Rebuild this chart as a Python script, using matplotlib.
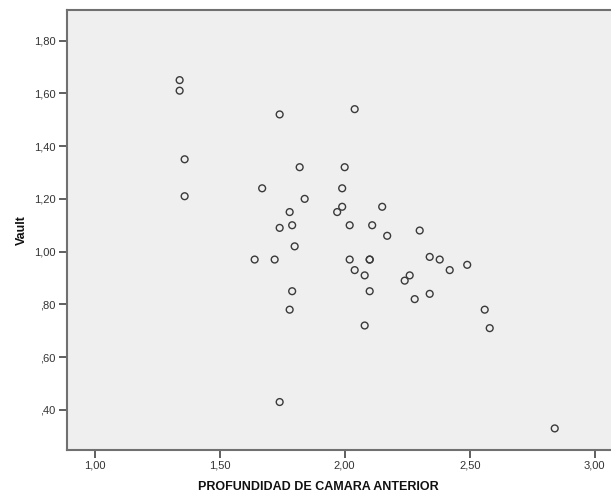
import matplotlib.pyplot as plt
from matplotlib.ticker import FuncFormatter

plt.rcParams['font.family'] = ['Liberation Sans', 'DejaVu Sans']

# Profundidad de camara anterior vs Vault
acd = [1.34, 1.34, 1.74, 1.36, 1.82, 1.67, 2.04, 1.36, 2.00, 1.99,
       1.84, 1.78, 1.99, 1.97, 1.74, 1.79, 2.02, 1.80, 2.15, 2.11,
       2.17, 2.30, 2.02, 2.10, 2.10, 2.04, 2.08, 2.34, 2.38, 2.42,
       2.49, 2.26, 2.24, 2.10, 2.28, 2.34, 2.56, 2.58, 2.08, 1.64,
       1.72, 1.79, 1.78, 1.74, 2.84]
vault = [1.65, 1.61, 1.52, 1.35, 1.32, 1.24, 1.54, 1.21, 1.32, 1.24,
         1.20, 1.15, 1.17, 1.15, 1.09, 1.10, 1.10, 1.02, 1.17, 1.10,
         1.06, 1.08, 0.97, 0.97, 0.97, 0.93, 0.91, 0.98, 0.97, 0.93,
         0.95, 0.91, 0.89, 0.85, 0.82, 0.84, 0.78, 0.71, 0.72, 0.97,
         0.97, 0.85, 0.78, 0.43, 0.33]

x_ticks = [1.0, 1.5, 2.0, 2.5, 3.0]
y_ticks = [0.4, 0.6, 0.8, 1.0, 1.2, 1.4, 1.6, 1.8]


def spss_fmt(v, pos):
    s = f'{v:.2f}'.replace('.', ',')
    if s.startswith('0'):
        s = s[1:]
    return s


fig = plt.figure(figsize=(6.11, 4.97), dpi=100)
ax = fig.add_axes([0.109, 0.095, 0.891, 0.885])
ax.set_facecolor('#efefef')

ax.scatter(acd, vault, s=24, facecolors='none', edgecolors='#3a3a3a', linewidths=1.0, zorder=3)

ax.set_xlim(0.888, 3.065)
ax.set_ylim(0.249, 1.916)
ax.set_xticks(x_ticks)
ax.set_yticks(y_ticks)
ax.xaxis.set_major_formatter(FuncFormatter(spss_fmt))
ax.yaxis.set_major_formatter(FuncFormatter(spss_fmt))
ax.tick_params(axis='both', labelsize=8, colors='#333333', length=6, width=1.2, pad=2)
ax.tick_params(axis='both', color='#444444')

for side in ['left', 'bottom', 'top']:
    ax.spines[side].set_color('#707070')
    ax.spines[side].set_linewidth(1.5)
ax.spines['right'].set_visible(False)

ax.set_xlabel('PROFUNDIDAD DE CAMARA ANTERIOR', fontsize=9, fontweight='bold', color='#111111')
ax.xaxis.set_label_coords(0.462, -0.072)
ax.set_ylabel('Vault', fontsize=9, fontweight='bold', color='#111111')
ax.yaxis.set_label_coords(-0.071, 0.5)

plt.savefig('out.png', dpi=100)
